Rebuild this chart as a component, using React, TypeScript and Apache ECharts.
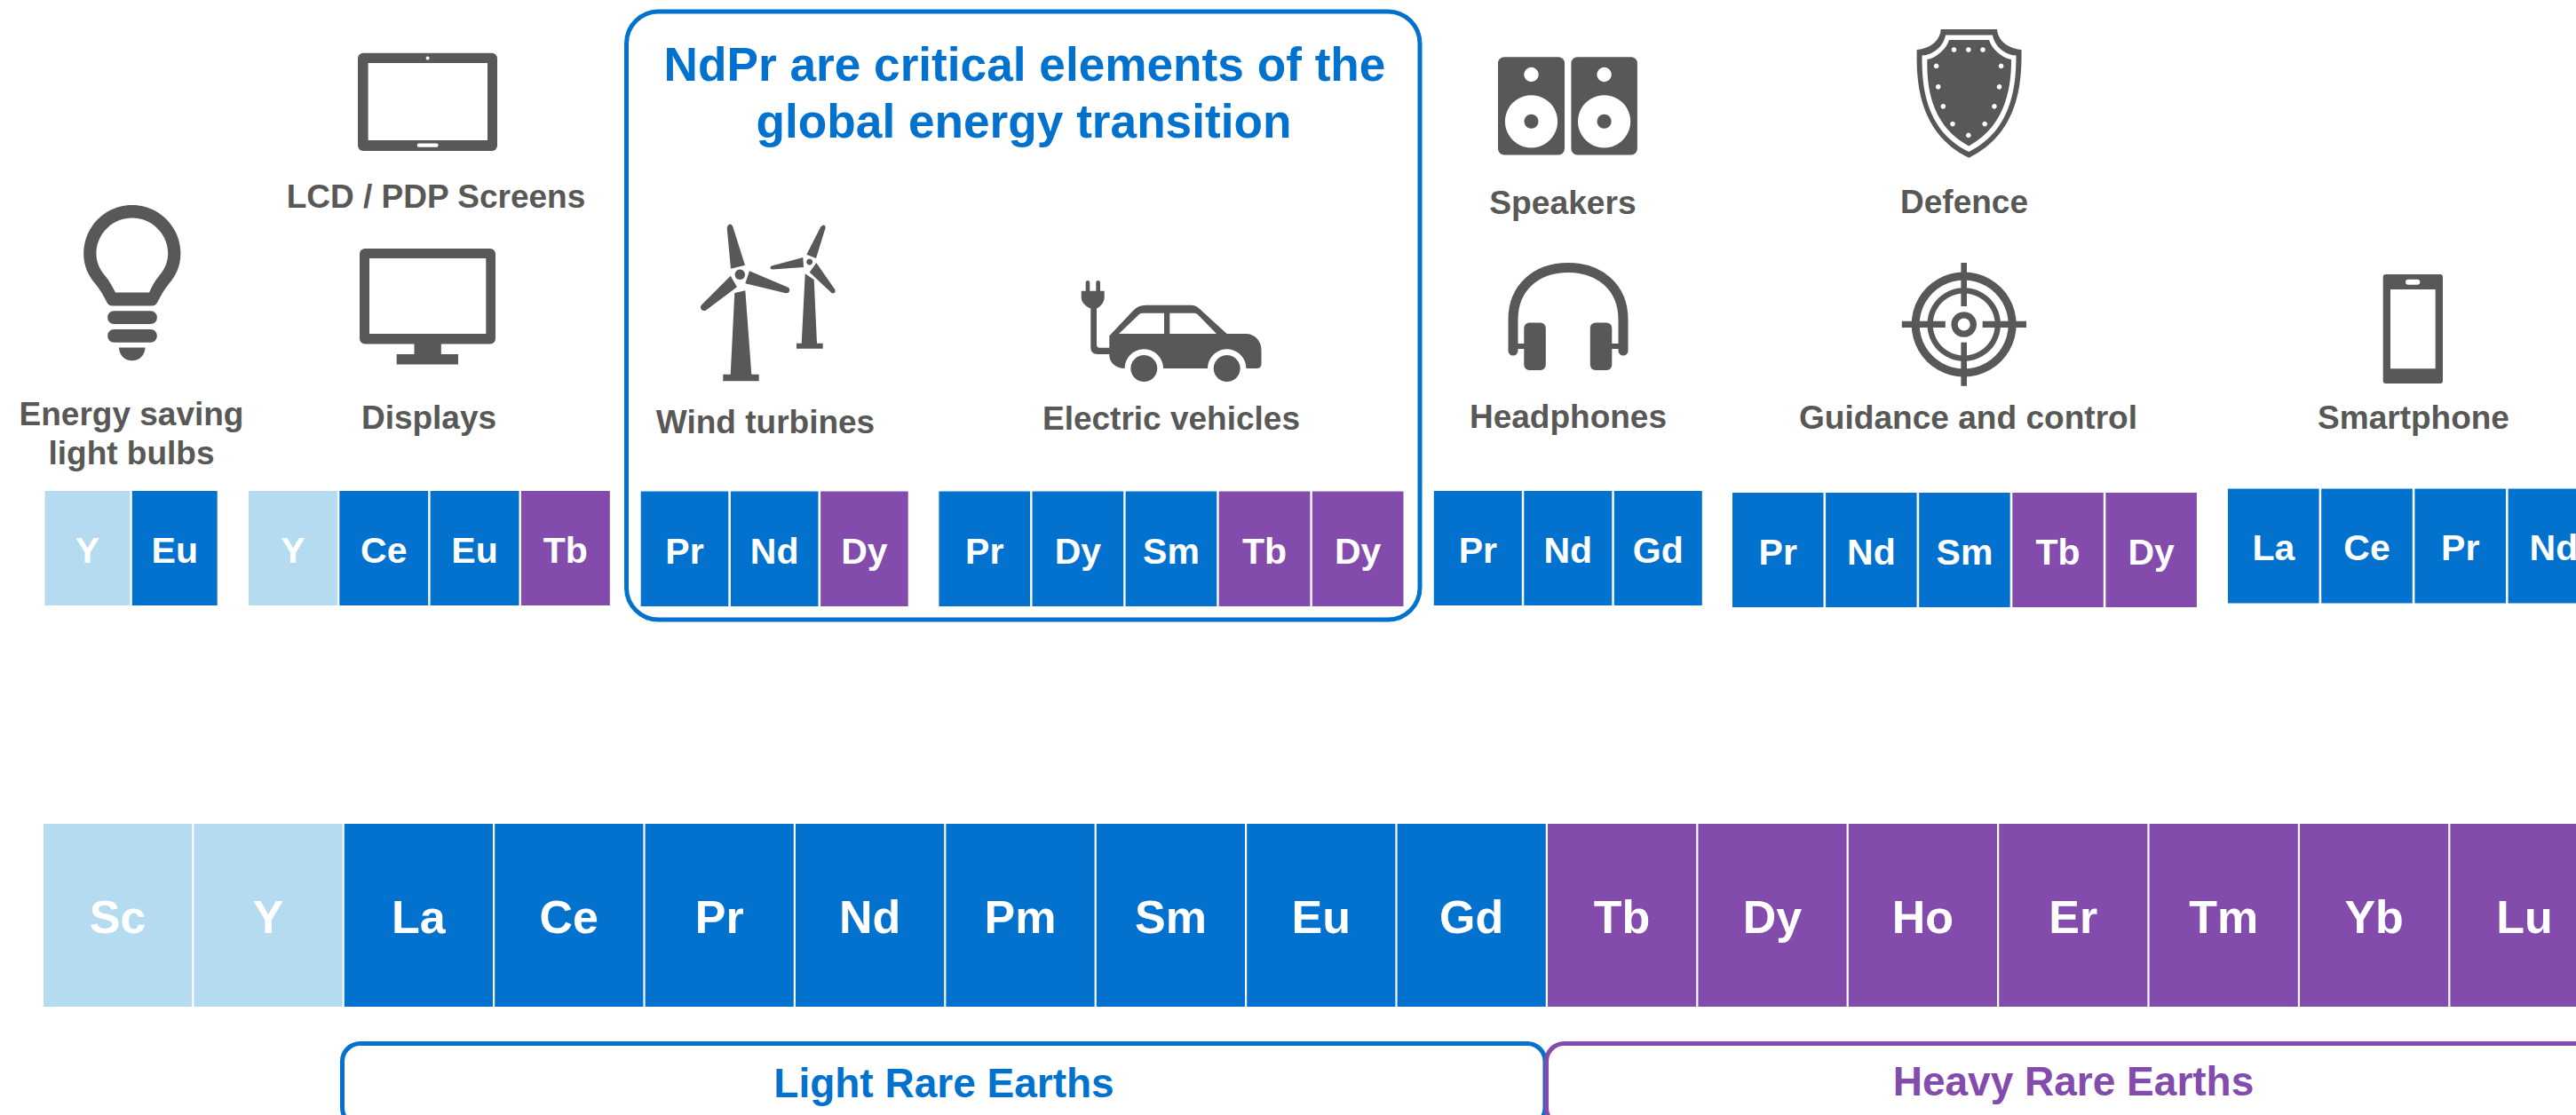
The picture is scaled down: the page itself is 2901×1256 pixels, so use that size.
import React, { useEffect, useRef } from "react";
import * as echarts from "echarts";

const BLUE = "#0272CE";
const PURPLE = "#834BAC";
const PALE = "#B5DBF0";
const GRAY = "#585857";
const FONT = "'Liberation Sans', Arial, sans-serif";
const groupColor: Record<string, string> = { rare: PALE, light: BLUE, heavy: PURPLE };

const bulbElements = ["Y", "Eu"];
const bulbGroups = ["rare", "light"];
const displayElements = ["Y", "Ce", "Eu", "Tb"];
const displayGroups = ["rare", "light", "light", "heavy"];
const windElements = ["Pr", "Nd", "Dy"];
const windGroups = ["light", "light", "heavy"];
const evElements = ["Pr", "Dy", "Sm", "Tb", "Dy"];
const evGroups = ["light", "light", "light", "heavy", "heavy"];
const audioElements = ["Pr", "Nd", "Gd"];
const audioGroups = ["light", "light", "light"];
const defenceElements = ["Pr", "Nd", "Sm", "Tb", "Dy"];
const defenceGroups = ["light", "light", "light", "heavy", "heavy"];
const phoneElements = ["La", "Ce", "Pr", "Nd"];
const phoneGroups = ["light", "light", "light", "light"];
const tableElements = ["Sc", "Y", "La", "Ce", "Pr", "Nd", "Pm", "Sm", "Eu", "Gd", "Tb", "Dy", "Ho", "Er", "Tm", "Yb", "Lu"];
const tableGroups = ["rare", "rare", "light", "light", "light", "light", "light", "light", "light", "light", "heavy", "heavy", "heavy", "heavy", "heavy", "heavy", "heavy"];

const titleLines = ["NdPr are critical elements of the", "global energy transition"];
const lightLabel = "Light Rare Earths";
const heavyLabel = "Heavy Rare Earths";

const strips = [
  { els: bulbElements, grp: bulbGroups, x: 50.5, top: 553, bottom: 682, pitch: 98.3, gap: 2.4, size: 41, off: 2 },
  { els: displayElements, grp: displayGroups, x: 280, top: 553, bottom: 682, pitch: 102.3, gap: 2.4, size: 41, off: 2 },
  { els: windElements, grp: windGroups, x: 721.7, top: 553.5, bottom: 683, pitch: 101.2, gap: 2.6, size: 41, off: 3 },
  { els: evElements, grp: evGroups, x: 1057.4, top: 553.5, bottom: 683, pitch: 105.1, gap: 2.4, size: 41, off: 3 },
  { els: audioElements, grp: audioGroups, x: 1614.8, top: 553, bottom: 682, pitch: 101.5, gap: 2.5, size: 41, off: 2 },
  { els: defenceElements, grp: defenceGroups, x: 1951, top: 555, bottom: 684, pitch: 105.1, gap: 2.6, size: 41, off: 2 },
  { els: phoneElements, grp: phoneGroups, x: 2509, top: 550.5, bottom: 679.5, pitch: 105.2, gap: 2.6, size: 41, off: 2 },
  { els: tableElements, grp: tableGroups, x: 49, top: 928, bottom: 1134, pitch: 169.4, gap: 2.2, size: 52, off: 2 },
];

const shapes: Record<string, string> = {
  bulbOuter: "M148.8 231C178.9 231 203.4 255.5 203.4 285.6C203.4 300 198 311 190 320C185 326 181 333 177 341Q175 344.5 171 344.5L126.6 344.5Q122.6 344.5 120.6 341C116.6 333 112.6 326 107.6 320C99.6 311 94.2 300 94.2 285.6C94.2 255.5 118.7 231 148.8 231Z",
  bulbInner: "M148.8 245.6C171 245.6 189.2 263.5 189.2 285.6C189.2 296 185 304 179 311C174.5 316 171 323 168 329.6L130 329.6C126.6 323 123 316 118.6 311C112.6 304 108.4 296 108.4 285.6C108.4 263.5 126.6 245.6 148.8 245.6Z",
  bulbTip: "M134 391.6L163.5 391.6A14.75 14.75 0 0 1 134 391.6Z",
  bladeA1: "M818.7 257Q820 252 822.5 252.5Q825 253 825.5 256L839 298.7L823 302.7Z",
  bladeA2: "M844 305.3L887 323.5Q890 325 889 328Q888 331 884 330L839.3 319.3Z",
  bladeA3: "M822.7 310.7L830 323.3L795 349.5Q791 351 789.5 348Q788 345.5 790.5 343Z",
  towerA: "M827.3 330L839.3 327.3L846.3 421.7L854.7 421.7L854.7 429.3L814.3 429.3L814.3 421.7L822.7 421.7Z",
  bladeB1: "M924 256Q926 253 928 253.5Q930 254.5 929.5 257L919 291L908.3 286.7Z",
  bladeB2: "M869 299.5L904.3 290L905 301L870 303.5Q867.5 303.5 867.5 301.5Q867.5 300 869 299.5Z",
  bladeB3: "M919.3 296L940.5 326.5Q941 329 939.5 330Q937.5 331 936 329.5L911.7 306.7Z",
  towerB: "M906.7 308.3L916.7 315L920 386.7L926.7 386.7L926.7 392.7L897 392.7L897 386.7L902.7 386.7Z",
  plug: "M1222.7 318.3Q1222.7 316 1225 316Q1227.3 316 1227.3 318.3L1227.3 327.7L1234.3 327.7L1234.3 318.3Q1234.3 316 1236.6 316Q1239 316 1239 318.3L1239 327.7L1243.7 327.7L1243.7 335C1243.7 340 1240 345 1235 347.5L1235 388Q1235 391.7 1238.5 391.7L1250 391.7L1250 399L1236 399Q1228.3 399 1228.3 391L1228.3 347.5C1222 345 1217.7 340 1217.7 335L1217.7 327.7L1222.7 327.7Z",
  carBody: "M1249.3 378.3L1276 350Q1282 343.7 1290 343.7L1341 343.7Q1347 343.7 1351 348L1381.7 376L1403 376C1413 376 1420.5 384 1420.5 394L1420.5 410Q1420.5 415 1415 415L1266.7 415C1256 415 1249.3 408 1249.3 400Z",
  carWinL: "M1260 376L1283 354Q1284.5 352.7 1287 352.7L1311 352.7L1311 376Z",
  carWinR: "M1317.3 352.7L1345 352.7Q1347.5 352.7 1349 354.5L1370 376L1317.3 376Z",
  shieldOuter: "M2185.7 33L2249 33C2250 46 2262 55 2276.5 56C2277 90 2275 150 2217.3 177.7C2160 150 2158 90 2158.7 56C2173 55 2185 46 2185.7 33Z",
  shieldMid: "M2191 39.5L2244 39.5C2246 52 2258 62 2270.5 62.5C2270.5 92 2268 146 2217.3 171C2166 146 2164.5 92 2164.5 62.5C2177 62 2189 52 2191 39.5Z",
  shieldInner: "M2195 45L2240 45C2243 55 2254 65 2265 67C2265 92 2262 140 2217.3 164.4C2172 140 2170 92 2170.4 67C2181 65 2192 55 2195 45Z",
  headBand: "M1704 395L1704 360C1704 324 1730 301.5 1766 301.5C1802 301.5 1828 324 1828 360L1828 395",
};
Object.keys(shapes).forEach((k) => {
  echarts.graphic.registerShape("ic_" + k, echarts.graphic.extendPath(shapes[k], {}));
});

const shieldDots = [[2200.5, 56], [2216.8, 56], [2233, 56], [2180.6, 74.4], [2253.6, 74.4], [2182.7, 97.8], [2251.5, 97.8], [2188.3, 119.8], [2245.9, 119.8], [2199, 139.6], [2235.2, 139.6], [2216.8, 152.4]];

const rect = (x0: number, y0: number, x1: number, y1: number, r: number, fill: string) => ({
  type: "rect", shape: { x: x0, y: y0, width: x1 - x0, height: y1 - y0, r }, style: { fill },
});
const circ = (cx: number, cy: number, r: number, fill: string) => ({ type: "circle", shape: { cx, cy, r }, style: { fill } });
const ic = (k: string, fill: string) => ({ type: "ic_" + k, style: { fill } });
const txt = (text: string, x: number, baseline: number, fontSize: number, fill: string) => ({
  type: "text",
  x,
  y: baseline - fontSize * 0.3465,
  style: { text, fill, fontSize, fontWeight: "bold", fontFamily: FONT, textAlign: "center", textVerticalAlign: "middle" },
});
const frame = (x0: number, y0: number, x1: number, y1: number, r: number, stroke: string) => ({
  type: "rect", shape: { x: x0, y: y0, width: x1 - x0, height: y1 - y0, r }, style: { fill: "none", stroke, lineWidth: 5 },
});

function buildGraphics() {
  const W = "#ffffff";
  return [
    frame(705.5, 13, 1599, 698, 36, BLUE),
    frame(385.5, 1175.5, 1740, 1268, 20, BLUE),
    frame(1741.5, 1175.5, 2960, 1268, 20, PURPLE),
    txt(titleLines[0], 1154, 91, 53.2, BLUE),
    txt(titleLines[1], 1153, 155, 53.2, BLUE),
    txt(lightLabel, 1063, 1236, 46, BLUE),
    txt(heavyLabel, 2335, 1234, 46, PURPLE),
    txt("LCD / PDP Screens", 491, 234, 37, GRAY),
    txt("Energy saving", 148, 479, 37, GRAY),
    txt("light bulbs", 148, 523, 37, GRAY),
    txt("Displays", 483, 483, 37, GRAY),
    txt("Wind turbines", 862, 488, 37, GRAY),
    txt("Electric vehicles", 1319, 484, 37, GRAY),
    txt("Speakers", 1760, 240.5, 37.2, GRAY),
    txt("Defence", 2212, 240.5, 37, GRAY),
    txt("Headphones", 1766, 482.5, 37, GRAY),
    txt("Guidance and control", 2216.5, 482.5, 37.1, GRAY),
    txt("Smartphone", 2718, 483, 37, GRAY),
    // bulb
    ic("bulbOuter", GRAY), ic("bulbInner", W),
    rect(121.2, 350.3, 176.8, 365, 7, GRAY), rect(121.2, 371, 176.8, 385.7, 7, GRAY), ic("bulbTip", GRAY),
    // tablet
    rect(403, 59.7, 560, 170, 6, GRAY), rect(414.6, 71, 549, 158, 0, W), circ(481.6, 65.6, 2, W), rect(469.7, 161.6, 493.6, 165.7, 2, W),
    // monitor
    rect(405, 280, 558, 387.5, 6, GRAY), rect(416, 291, 547.3, 376, 0, W), rect(466.5, 387, 496.8, 400, 0, GRAY), rect(446.7, 399, 516, 410.5, 0, GRAY),
    // turbines
    ic("towerA", GRAY), ic("bladeA1", GRAY), ic("bladeA2", GRAY), ic("bladeA3", GRAY), circ(833.3, 309.3, 5.7, GRAY),
    ic("towerB", GRAY), ic("bladeB1", GRAY), ic("bladeB2", GRAY), ic("bladeB3", GRAY), circ(911.7, 295, 3.5, GRAY),
    // car
    ic("plug", GRAY), ic("carBody", GRAY), ic("carWinL", W), ic("carWinR", W),
    circ(1288.3, 415, 21.7, W), circ(1381.7, 415, 21.7, W), circ(1288.3, 415, 15, GRAY), circ(1381.7, 415, 15, GRAY),
    // speakers
    rect(1687, 64.3, 1762, 174.5, 7, GRAY), rect(1769.4, 64.3, 1843.9, 174.5, 7, GRAY),
    circ(1724.5, 84, 8.2, W), circ(1724.5, 136.8, 29.6, W), circ(1724.5, 136.8, 8, GRAY),
    circ(1806.6, 84, 8.2, W), circ(1806.6, 136.8, 29.6, W), circ(1806.6, 136.8, 8, GRAY),
    // shield
    ic("shieldOuter", GRAY), ic("shieldMid", W), ic("shieldInner", GRAY),
    ...shieldDots.map((d) => circ(d[0], d[1], 2.8, W)),
    // headphones
    { type: "ic_headBand", style: { fill: "none", stroke: GRAY, lineWidth: 11, lineCap: "round" } },
    rect(1716.3, 363.6, 1740.8, 417, 6, GRAY), rect(1790.8, 363.6, 1815.3, 417, 6, GRAY),
    rect(1708, 387, 1718, 393, 0, GRAY), rect(1814, 387, 1824, 393, 0, GRAY),
    // target
    { type: "ring", shape: { cx: 2211.7, cy: 365.5, r: 59, r0: 50 }, style: { fill: GRAY } },
    { type: "ring", shape: { cx: 2211.7, cy: 365.5, r: 41.3, r0: 35 }, style: { fill: GRAY } },
    { type: "ring", shape: { cx: 2211.7, cy: 365.5, r: 14.3, r0: 7 }, style: { fill: GRAY } },
    rect(2208.4, 296, 2215, 345, 0, GRAY), rect(2208.4, 385.7, 2215, 434.8, 0, GRAY),
    rect(2141.8, 361.8, 2190.8, 369, 0, GRAY), rect(2232.7, 361.8, 2282, 369, 0, GRAY),
    // phone
    rect(2683.7, 309, 2751, 432, 3, GRAY), rect(2692, 326, 2742.7, 415.3, 0, W), rect(2709, 314.7, 2725.3, 320.7, 3, W),
  ];
}

function buildOption() {
  const grid = strips.map((s) => ({
    left: s.x - s.gap / 2,
    top: s.top,
    width: s.pitch * s.els.length,
    height: s.bottom - s.top,
    containLabel: false,
    outerBoundsMode: "none",
  }));
  const xAxis = strips.map((s, i) => ({ type: "category", gridIndex: i, show: false, data: s.els }));
  const yAxis = strips.map((_, i) => ({ type: "value", gridIndex: i, show: false, min: 0, max: 1 }));
  const series = strips.map((s, i) => ({
    type: "bar",
    xAxisIndex: i,
    yAxisIndex: i,
    barWidth: s.pitch - s.gap,
    silent: true,
    data: s.els.map((name, j) => ({ name, value: 1, itemStyle: { color: groupColor[s.grp[j]] } })),
    label: {
      show: true,
      position: "inside",
      formatter: "{b}",
      color: "#ffffff",
      fontFamily: FONT,
      fontWeight: "bold",
      fontSize: s.size,
      offset: [0, s.off],
      textBorderWidth: 0,
    },
  }));
  return {
    animation: false,
    backgroundColor: "#ffffff",
    tooltip: { show: false },
    grid,
    xAxis,
    yAxis,
    series,
    graphic: { elements: buildGraphics() },
  };
}

export default function App() {
  const ref = useRef<HTMLDivElement>(null);
  useEffect(() => {
    document.body.style.margin = "0";
    const chart = echarts.init(ref.current!, undefined, { renderer: "svg" });
    chart.setOption(buildOption() as any);
    return () => chart.dispose();
  }, []);
  return <div ref={ref} style={{ position: "absolute", left: 0, top: 0, width: 2901, height: 1256, overflow: "hidden" }} />;
}
